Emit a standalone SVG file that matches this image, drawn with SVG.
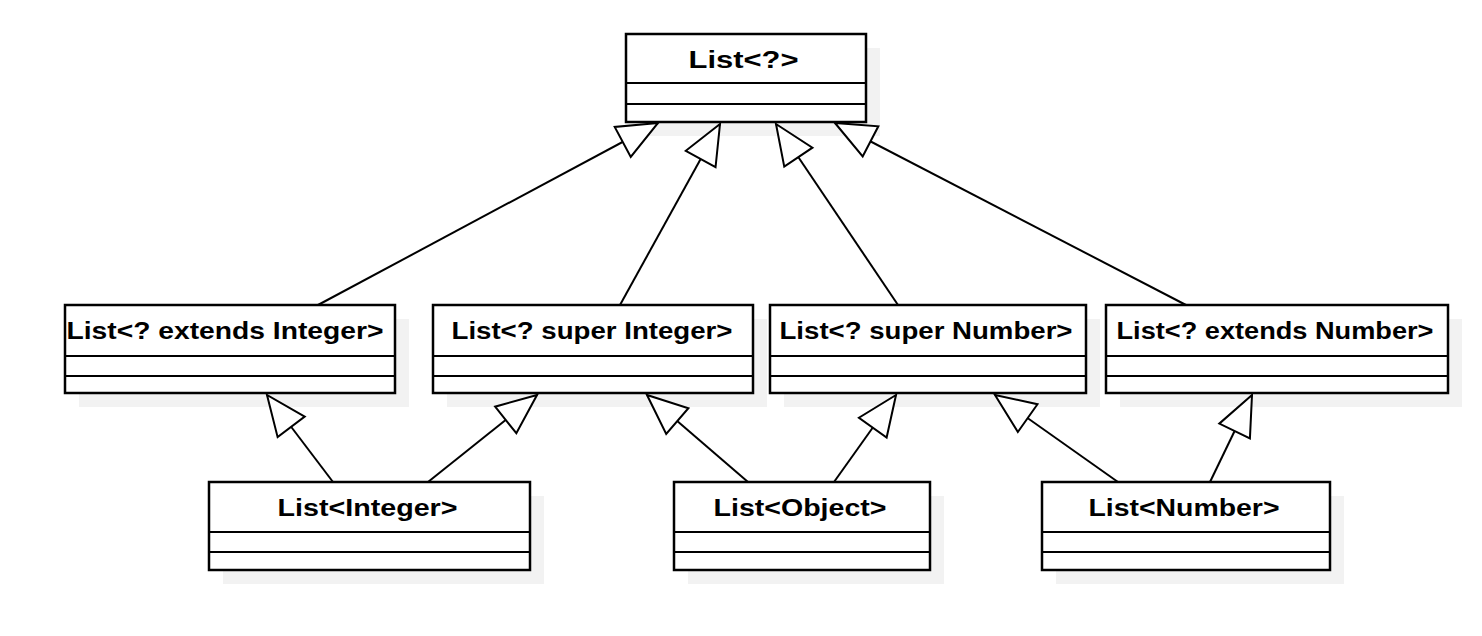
<svg xmlns="http://www.w3.org/2000/svg" width="1482" height="636" viewBox="0 0 1482 636">
<style>
.sh{fill:#f2f2f2;stroke:none}
.bx{fill:#fff;stroke:#000;stroke-width:2.5}
.dv{stroke:#000;stroke-width:2;fill:none}
.lb{font-family:"Liberation Sans",Arial,sans-serif;font-weight:bold;font-size:23px;fill:#000}
.cn{stroke:#000;stroke-width:2;fill:none;marker-end:url(#tri)}
</style>
<defs>
<marker id="tri" markerUnits="userSpaceOnUse" orient="auto" refX="0" refY="0" markerWidth="50" markerHeight="40" overflow="visible">
<path d="M0,0 L-40,-17 L-40,17 Z" fill="#fff" stroke="#000" stroke-width="2" stroke-linejoin="miter"/>
</marker>
</defs>
<rect width="1482" height="636" fill="#fff"/>
<g id="n-any">
<rect class="sh" x="640" y="48" width="240" height="88"/>
<rect class="bx" x="626" y="34" width="240" height="88"/>
<path class="dv" d="M626,83H866M626,104H866"/>
<text class="lb" x="688.5" y="68" textLength="110" lengthAdjust="spacingAndGlyphs">List&lt;?&gt;</text>
</g>
<g id="n-extends-integer">
<rect class="sh" x="79" y="319" width="330" height="88"/>
<rect class="bx" x="65" y="305" width="330" height="88"/>
<path class="dv" d="M65,356H395M65,376H395"/>
<text class="lb" x="66.5" y="339" textLength="317" lengthAdjust="spacingAndGlyphs">List&lt;? extends Integer&gt;</text>
</g>
<g id="n-super-integer">
<rect class="sh" x="447" y="319" width="320" height="88"/>
<rect class="bx" x="433" y="305" width="320" height="88"/>
<path class="dv" d="M433,356H753M433,376H753"/>
<text class="lb" x="451.5" y="339" textLength="281" lengthAdjust="spacingAndGlyphs">List&lt;? super Integer&gt;</text>
</g>
<g id="n-super-number">
<rect class="sh" x="784" y="319" width="316" height="88"/>
<rect class="bx" x="770" y="305" width="316" height="88"/>
<path class="dv" d="M770,356H1086M770,376H1086"/>
<text class="lb" x="779.5" y="339" textLength="293" lengthAdjust="spacingAndGlyphs">List&lt;? super Number&gt;</text>
</g>
<g id="n-extends-number">
<rect class="sh" x="1120" y="319" width="342" height="88"/>
<rect class="bx" x="1106" y="305" width="342" height="88"/>
<path class="dv" d="M1106,356H1448M1106,376H1448"/>
<text class="lb" x="1116.5" y="339" textLength="317" lengthAdjust="spacingAndGlyphs">List&lt;? extends Number&gt;</text>
</g>
<g id="n-integer">
<rect class="sh" x="223" y="496" width="321" height="88"/>
<rect class="bx" x="209" y="482" width="321" height="88"/>
<path class="dv" d="M209,532H530M209,552H530"/>
<text class="lb" x="277.5" y="516" textLength="180" lengthAdjust="spacingAndGlyphs">List&lt;Integer&gt;</text>
</g>
<g id="n-object">
<rect class="sh" x="688" y="496" width="256" height="88"/>
<rect class="bx" x="674" y="482" width="256" height="88"/>
<path class="dv" d="M674,532H930M674,552H930"/>
<text class="lb" x="713.5" y="516" textLength="173" lengthAdjust="spacingAndGlyphs">List&lt;Object&gt;</text>
</g>
<g id="n-number">
<rect class="sh" x="1056" y="496" width="288" height="88"/>
<rect class="bx" x="1042" y="482" width="288" height="88"/>
<path class="dv" d="M1042,532H1330M1042,552H1330"/>
<text class="lb" x="1088.5" y="516" textLength="191" lengthAdjust="spacingAndGlyphs">List&lt;Number&gt;</text>
</g>
<g id="connectors">
<line class="cn" x1="318" y1="305" x2="658" y2="123"/>
<line class="cn" x1="620" y1="305" x2="720" y2="124"/>
<line class="cn" x1="898" y1="305" x2="776" y2="124"/>
<line class="cn" x1="1186" y1="305" x2="835" y2="123"/>
<line class="cn" x1="333" y1="482" x2="267" y2="395"/>
<line class="cn" x1="428" y1="482" x2="537" y2="395"/>
<line class="cn" x1="748" y1="482" x2="647" y2="395"/>
<line class="cn" x1="834" y1="482" x2="896" y2="395"/>
<line class="cn" x1="1118" y1="482" x2="995" y2="395"/>
<line class="cn" x1="1210" y1="482" x2="1252" y2="395"/>
</g>
</svg>
